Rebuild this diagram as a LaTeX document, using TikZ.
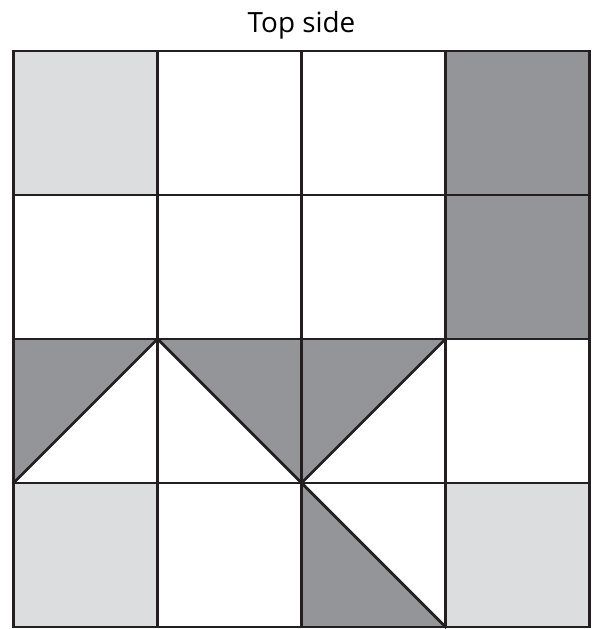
\documentclass[tikz,border=0pt]{standalone}
\usepackage{fontspec}
\setmainfont{Open Sans}
\usepackage{tikz}
\usetikzlibrary{positioning}
\definecolor{lightgrey}{RGB}{220,221,223}
\definecolor{darkgrey}{RGB}{147,149,152}
\definecolor{gridline}{RGB}{35,31,32}
\tikzset{
  lightcell/.style={fill=lightgrey},
  darkcell/.style={fill=darkgrey},
  gridlines/.style={draw=gridline, line width=1.1pt, line cap=rect}
}

\begin{document}
\begin{tikzpicture}
  \useasboundingbox (-0.1875,-0.028) rectangle (8.021,8.708);
  % plain shaded squares
  \fill[lightcell] (0,6) rectangle (2,8);
  \fill[darkcell] (6,4) rectangle (8,8);
  \fill[lightcell] (0,0) rectangle (2,2);
  \fill[lightcell] (6,0) rectangle (8,2);
  % half-square triangles
  \fill[darkcell] (0,4) -- (2,4) -- (0,2) -- cycle;
  \fill[darkcell] (2,4) -- (6,4) -- (4,2) -- cycle;
  \fill[darkcell] (4,2) -- (4,0) -- (6,0) -- cycle;
  % grid and diagonals
  \draw[gridlines] (0,0) grid[step=2] (8,8);
  \draw[gridlines] (0,2) -- (2,4) -- (4,2) -- (6,4);
  \draw[gridlines] (4,2) -- (6,0);
  \node[font=\fontsize{11}{13}\selectfont] (title) at (4,8.36) {Top side};
\end{tikzpicture}
\end{document}
